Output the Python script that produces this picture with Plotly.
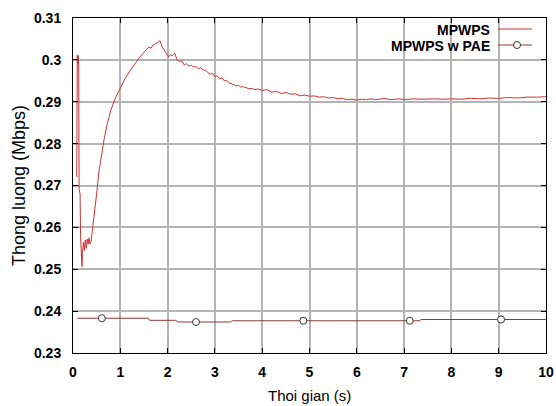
import plotly.graph_objects as go

# ---- data ----
t_mpwps = [0.08, 0.09, 0.10, 0.11, 0.12, 0.13, 0.15, 0.16, 0.19, 0.20, 0.22, 0.24, 0.26, 0.28,
           0.30, 0.32, 0.34, 0.36, 0.38, 0.41, 0.45, 0.50, 0.55, 0.60, 0.66, 0.72, 0.80, 0.90,
           1.00, 1.10, 1.20, 1.30, 1.40, 1.50, 1.60, 1.65, 1.70, 1.80, 1.84, 1.88, 1.92, 1.95,
           1.98, 2.02, 2.06, 2.10, 2.15, 2.20, 2.25, 2.30, 2.35, 2.40, 2.45, 2.50, 2.55, 2.60,
           2.65, 2.70, 2.75, 2.80, 2.85, 2.90, 2.95, 3.00, 3.05, 3.10, 3.15, 3.20, 3.25, 3.30,
           3.40, 3.45, 3.50, 3.55, 3.60, 3.70, 3.80, 3.85, 3.90, 4.00, 4.05, 4.10, 4.20, 4.30,
           4.40, 4.50, 4.60, 4.70, 4.80, 4.90, 5.00, 5.10, 5.20, 5.30, 5.40, 5.50, 5.60, 5.70,
           5.80, 5.90, 6.00, 6.10, 6.20, 6.30, 6.40, 6.50, 6.60, 6.70, 6.80, 6.90, 7.00, 7.20,
           7.40, 7.60, 7.80, 8.00, 8.20, 8.40, 8.60, 8.80, 9.00, 9.20, 9.40, 9.60, 9.80, 10.00]
v_mpwps = [0.2720, 0.3012, 0.2990, 0.3010, 0.2990, 0.2690, 0.2680, 0.2578, 0.2506, 0.2540,
           0.2565, 0.2545, 0.2570, 0.2550, 0.2572, 0.2560, 0.2575, 0.2560, 0.2565, 0.2594,
           0.2630, 0.2680, 0.2735, 0.2775, 0.2812, 0.2845, 0.2880, 0.2910, 0.2934, 0.2955,
           0.2973, 0.2990, 0.3005, 0.3018, 0.3030, 0.3028, 0.3036, 0.3042, 0.3046, 0.3032,
           0.3025, 0.3020, 0.3012, 0.3007, 0.3012, 0.3010, 0.3016, 0.3000, 0.2996, 0.2998,
           0.2988, 0.2991, 0.2985, 0.2987, 0.2983, 0.2984, 0.2979, 0.2981, 0.2976, 0.2975,
           0.2970, 0.2966, 0.2968, 0.2960, 0.2962, 0.2955, 0.2957, 0.2950, 0.2951, 0.2945,
           0.2941, 0.2938, 0.2939, 0.2935, 0.2936, 0.2932, 0.2931, 0.2929, 0.2931, 0.2927,
           0.2928, 0.2929, 0.2923, 0.2925, 0.2920, 0.2922, 0.2918, 0.2919, 0.2914, 0.2916,
           0.2913, 0.2914, 0.2911, 0.2912, 0.2909, 0.2910, 0.2907, 0.2908, 0.2905, 0.2906,
           0.2904, 0.2906, 0.2905, 0.2907, 0.2905, 0.2906, 0.2908, 0.2905, 0.2906, 0.2907,
           0.2905, 0.2907, 0.2906, 0.2907, 0.2906, 0.2907, 0.2906, 0.2908, 0.2907, 0.2909,
           0.2908, 0.2910, 0.2909, 0.2911, 0.2911, 0.2912]

t_pae = [0.09, 1.59, 1.62, 2.17, 2.22, 3.33, 3.37, 7.32, 7.36, 10.0]
v_pae = [0.2383, 0.2383, 0.2378, 0.2378, 0.2374, 0.2374, 0.2377, 0.2377, 0.2380, 0.2380]

t_pae_marks = [0.61, 2.60, 4.87, 7.12, 9.05]
v_pae_marks = [0.2383, 0.2374, 0.2377, 0.2377, 0.2380]

y_ticks = [0.23, 0.24, 0.25, 0.26, 0.27, 0.28, 0.29, 0.30, 0.31]
y_tick_labels = ["0.23", "0.24", "0.25", "0.26", "0.27", "0.28", "0.29", "0.3", "0.31"]
x_ticks = [0, 1, 2, 3, 4, 5, 6, 7, 8, 9, 10]

series_names = ["MPWPS", "MPWPS w PAE"]
x_title = "Thoi gian (s)"
y_title = "Thong luong (Mbps)"

# ---- styles ----
C_MPWPS = "#cc3333"
C_PAE = "#8b3a3a"
FONT = "Liberation Sans, Arial, sans-serif"

fig = go.Figure()
fig.add_trace(go.Scatter(x=t_mpwps, y=v_mpwps, mode="lines",
                         line=dict(color=C_MPWPS, width=1), showlegend=False))
fig.add_trace(go.Scatter(x=t_pae, y=v_pae, mode="lines",
                         line=dict(color=C_PAE, width=1), showlegend=False))
fig.add_trace(go.Scatter(x=t_pae_marks, y=v_pae_marks, mode="markers",
                         marker=dict(symbol="circle", size=7, color="white",
                                     line=dict(color="#333333", width=1)),
                         showlegend=False))

L, R, T, B = 73, 10, 18, 53
W, H = 556, 406
pw, ph = W - L - R, H - T - B

def px(x):
    return (x - L) / pw

def py(y):
    return 1 - (y - T) / ph

LEG_Y1, LEG_Y2 = 29, 45

# manual legend (text left of sample, like gnuplot)
annos = [
    dict(text=series_names[0], x=px(491), y=py(LEG_Y1), xref="paper", yref="paper",
         xanchor="right", yanchor="middle", showarrow=False, height=13, borderpad=0,
         font=dict(family=FONT, size=14, color="black", weight="bold")),
    dict(text=series_names[1], x=px(491), y=py(LEG_Y2), xref="paper", yref="paper",
         xanchor="right", yanchor="middle", showarrow=False, height=13, borderpad=0,
         font=dict(family=FONT, size=14, color="black", weight="bold")),
    dict(text=x_title, x=px(309), y=py(395), xref="paper", yref="paper",
         xanchor="center", yanchor="middle", showarrow=False,
         font=dict(family=FONT, size=15, color="black")),
    dict(text=y_title, x=px(19), y=py(186), xref="paper", yref="paper",
         xanchor="center", yanchor="middle", showarrow=False, textangle=-90,
         font=dict(family=FONT, size=18, color="black")),
]
shapes = [
    dict(type="line", xref="paper", yref="paper", x0=px(498), x1=px(532),
         y0=py(LEG_Y1), y1=py(LEG_Y1), line=dict(color=C_MPWPS, width=1)),
    dict(type="line", xref="paper", yref="paper", x0=px(498), x1=px(532),
         y0=py(LEG_Y2), y1=py(LEG_Y2), line=dict(color=C_PAE, width=1)),
    dict(type="circle", xref="paper", yref="paper", x0=px(513.5), x1=px(520.5),
         y0=py(LEG_Y2 + 3.5), y1=py(LEG_Y2 - 3.5), fillcolor="white",
         line=dict(color="#333333", width=1)),
]

fig.update_layout(
    width=W, height=H,
    margin=dict(l=L, r=R, t=T, b=B, autoexpand=False),
    paper_bgcolor="white", plot_bgcolor="white",
    showlegend=False,
    annotations=annos, shapes=shapes,
    font=dict(family=FONT, color="black"),
)
fig.update_xaxes(range=[0, 10], tickvals=x_ticks, ticks="inside", ticklen=5,
                 tickcolor="black", showline=True, linecolor="black", linewidth=1,
                 mirror="ticks", showgrid=True, gridcolor="#b4b4b4", gridwidth=1.5,
                 zeroline=False, tickfont=dict(family=FONT, size=14, weight="bold"),
                 ticklabelstandoff=6, automargin=False)
fig.update_yaxes(range=[0.23, 0.31], tickvals=y_ticks, ticktext=y_tick_labels,
                 ticks="inside", ticklen=5, tickcolor="black", showline=True,
                 linecolor="black", linewidth=1, mirror="ticks", showgrid=True,
                 gridcolor="#b4b4b4", gridwidth=1.5, zeroline=False,
                 tickfont=dict(family=FONT, size=14, weight="bold"), ticklabelstandoff=8,
                 automargin=False)

fig.write_html("out.html", config={"displayModeBar": False},
               post_script="document.body.style.margin='0';")
